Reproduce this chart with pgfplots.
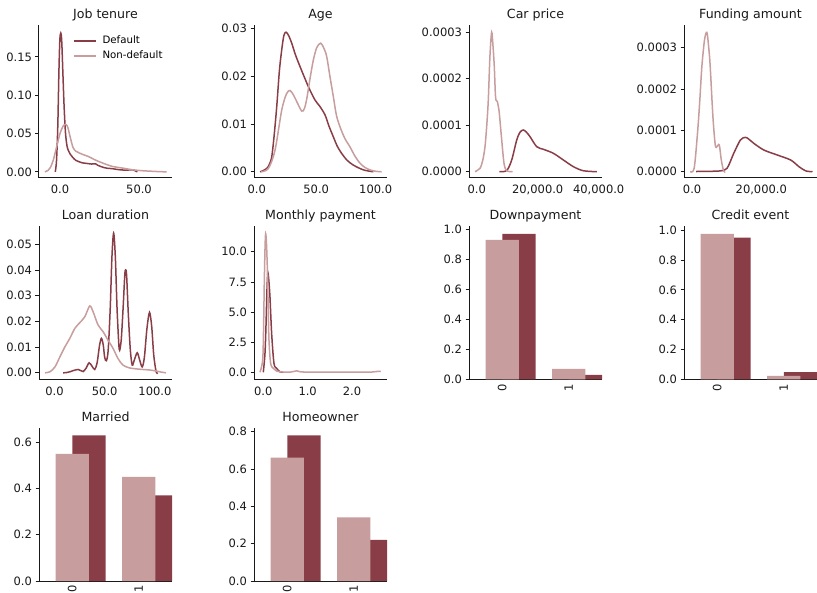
\documentclass[border=0pt]{standalone}
\usepackage{pgfplots}
\pgfplotsset{compat=1.18}
\usepackage{fontspec}
\setmainfont{DejaVu Sans}
\definecolor{dk}{RGB}{137,62,71}
\definecolor{lt}{RGB}{199,157,158}
\definecolor{txt}{RGB}{25,25,25}
\pgfplotsset{
  base/.style={
    scale only axis, width=133pt, height=153pt, anchor=south west,
    axis x line*=bottom, axis y line*=left,
    axis line style={-, line width=1pt, color=txt},
    tick align=outside, major tick length=3.5pt,
    x tick style={draw=none},
    y tick style={line width=0.8pt, color=txt},
    tick label style={font=\fontsize{11.5}{13}\selectfont, color=txt},
    /pgf/number format/assume math mode=true,
    scaled x ticks=false, scaled y ticks=false,
    every axis title shift=0pt,
    title style={font=\fontsize{12.6}{14}\selectfont, color=txt, anchor=base, at={(0.5,1)}, yshift=6.5pt},
  },
  kde/.style={base,
    xticklabel style={/pgf/number format/fixed, /pgf/number format/fixed zerofill, /pgf/number format/precision=1, /pgf/number format/1000 sep={,}},
  },
  yp/.style={yticklabel style={/pgf/number format/fixed, /pgf/number format/fixed zerofill, /pgf/number format/precision=#1}},
  bars/.style={base, xmin=-0.5, xmax=1.5, ymin=0, xtick={0,1}, xticklabels={0,1},
    xticklabel style={rotate=90, anchor=east, inner sep=0.5pt}, yp=1},
  dl/.style={dk, line width=1.5pt, smooth},
  ll/.style={lt, line width=1.5pt, smooth},
}
\begin{document}
\begin{tikzpicture}
\useasboundingbox (0,0) rectangle (817pt,-593pt);
% Job tenure
\begin{axis}[kde, yp=2, at={(39pt,-178pt)}, title={Job tenure},
  xmin=-13.3, xmax=70.9, ymin=-0.008, ymax=0.1915, xtick={0,50}, ytick={0,0.05,0.10,0.15},
  legend style={draw=none, fill=none, at={(0.255,0.935)}, anchor=north west,
    font=\fontsize{10.2}{12}\selectfont, row sep=3.5pt, inner sep=0pt,
    nodes={inner sep=1pt, text height=7.5pt, text depth=2pt},
    /tikz/every odd column/.append style={column sep=5pt}},
  legend cell align=left,
  legend image code/.code={\draw[#1] (0pt,0pt) -- (22pt,0pt);}]
\addplot[dl] coordinates {(-3,0) (-2.2,0.015) (-1.4,0.06) (-0.7,0.13) (-0.1,0.172) (0.5,0.181) (1.1,0.17) (1.8,0.13) (2.6,0.085) (3.5,0.05) (4.5,0.033) (5.5,0.027) (6.5,0.023) (8,0.019) (10,0.015) (12,0.0132) (14,0.0118) (17,0.011) (20,0.0102) (22.5,0.0105) (24,0.0085) (26,0.0068) (28,0.0055) (30,0.0047) (33,0.0042) (36,0.0032) (39,0.0025) (42,0.0023) (45,0.0026) (46.5,0.0025) (48,0.001) (49,0)};
\addlegendentry{Default}
\addplot[ll] coordinates {(-9.6,0) (-7.5,0.002) (-6,0.006) (-4.2,0.0157) (-2.1,0.033) (0,0.05) (1.8,0.059) (3.3,0.062) (4.8,0.059) (6.5,0.045) (8.2,0.032) (10,0.027) (12,0.0248) (15,0.0222) (18,0.02) (22,0.0158) (27,0.0115) (33,0.0072) (40,0.0048) (46,0.0027) (52,0.0015) (58,0.0008) (63,0.0003) (67.5,0)};
\addlegendentry{Non-default}
\end{axis}
% Age
\begin{axis}[kde, yp=2, at={(254pt,-178pt)}, title={Age},
  xmin=-2.3, xmax=109.5, ymin=-0.0013, ymax=0.0307, xtick={0,50,100}, ytick={0,0.01,0.02,0.03}]
\addplot[dl] coordinates {(2.8,0) (5,0.0002) (8.4,0.0007) (10.5,0.0015) (12.6,0.0031) (14.6,0.0075) (16.8,0.0136) (19,0.021) (21,0.0255) (22.8,0.0285) (24.6,0.0292) (26.8,0.0285) (29.4,0.0269) (32.5,0.0245) (36.4,0.022) (43.4,0.0178) (49,0.015) (53,0.0137) (57.4,0.0119) (60.5,0.0097) (64.4,0.0073) (67.8,0.0053) (71.5,0.0038) (76,0.0024) (81.2,0.0014) (89.6,0.0004) (98,0)};
\addplot[ll] coordinates {(3.65,0) (9.8,0.0007) (15.35,0.0045) (21,0.0129) (25,0.0163) (28,0.017) (31,0.016) (33.6,0.0147) (37.8,0.0127) (40,0.0132) (42,0.0152) (44.8,0.0195) (47.6,0.0234) (50.5,0.026) (53.8,0.0269) (56.5,0.0258) (58.8,0.0241) (61.5,0.02) (64.4,0.0157) (67,0.0118) (70,0.0094) (74,0.007) (78.4,0.0052) (82.5,0.0033) (86.8,0.0018) (91,0.0009) (95.2,0.0004) (100,0.0001) (105,0)};
\end{axis}
% Car price
\begin{axis}[kde, yp=4, at={(469pt,-178pt)}, title={Car price},
  xmin=-2525, xmax=41080, ymin=-0.0000136, ymax=0.0003157, xtick={0,20000,40000}, ytick={0,0.0001,0.0002,0.0003}]
\addplot[dl] coordinates {(7413,0) (9843,0.0000025) (11477,0.0000252) (13120,0.0000682) (14200,0.000085) (15285,0.0000897) (16300,0.000085) (17480,0.0000753) (19680,0.0000538) (21850,0.0000482) (25125,0.0000396) (28400,0.0000252) (31690,0.0000108) (34965,0.000002) (39363,0)};
\addplot[ll] coordinates {(-557,0) (1086,0.0000073) (2000,0.000025) (2720,0.0000538) (3300,0.0001) (3800,0.000154) (4350,0.00025) (4904,0.0003) (5350,0.00027) (5770,0.000226) (6100,0.00017) (6330,0.000154) (6754,0.000151) (7100,0.00014) (7413,0.000126) (8200,0.000068) (8958,0.000018) (9843,0.000002) (11811,0)};
\end{axis}
% Funding amount
\begin{axis}[kde, yp=4, at={(684pt,-178pt)}, title={Funding amount},
  xmin=-2350, xmax=36100, ymin=-0.0000152, ymax=0.000355, xtick={0,20000}, ytick={0,0.0001,0.0002,0.0003}]
\addplot[dl] coordinates {(1160,0.0000005) (5000,0.000001) (8140,0.000002) (10090,0.0000082) (12030,0.0000445) (13950,0.0000767) (15410,0.0000832) (16500,0.000078) (17820,0.0000687) (20730,0.0000525) (24620,0.0000404) (28490,0.0000283) (30900,0.0000121) (32850,0.000002) (34800,0)};
\addplot[ll] coordinates {(-580,0) (580,0.0000082) (1550,0.0000929) (2200,0.00017) (2810,0.000254) (3600,0.00032) (4270,0.000337) (4800,0.0003) (5230,0.000254) (6010,0.000133) (6690,0.0000646) (7170,0.0000605) (7850,0.0000646) (8430,0.0000283) (9100,0.000002) (9590,0)};
\end{axis}
% Loan duration
\begin{axis}[kde, yp=2, at={(39pt,-379.5pt)}, title={Loan duration},
  xmin=-15.4, xmax=117, ymin=-0.0026, ymax=0.0569, xtick={0,50,100}, ytick={0,0.01,0.02,0.03,0.04,0.05}]
\addplot[dl] coordinates {(8.7,0) (12,0.0001) (15.3,0.0004) (19,0.0009) (23.6,0.0013) (26.5,0.0008) (28.6,0.0005) (31.5,0.0018) (34.5,0.0039) (37.5,0.0025) (40.1,0.0013) (42.5,0.004) (44.8,0.0105) (46.7,0.0134) (48.5,0.011) (50,0.006) (51.7,0.0047) (53.5,0.009) (55.5,0.025) (57.2,0.045) (58.9,0.0543) (60.6,0.045) (62.3,0.025) (64,0.0115) (64.9,0.0088) (66.5,0.013) (68.3,0.025) (70,0.038) (70.8,0.04) (71.8,0.038) (73.5,0.023) (75.5,0.009) (77.4,0.003) (79.5,0.005) (82.4,0.0078) (84.8,0.005) (87.3,0.0023) (89.5,0.006) (92,0.017) (94.6,0.0235) (96.8,0.018) (98.8,0.007) (101.2,0.0004) (102.8,0)};
\addplot[ll] coordinates {(-9.4,0) (-4.5,0.0004) (0.5,0.0023) (5.4,0.0062) (10.4,0.0101) (15.3,0.0134) (20.3,0.0173) (25.2,0.0195) (30.2,0.0218) (35.1,0.026) (38.4,0.0238) (43.4,0.0186) (48.4,0.016) (53.3,0.0127) (58.3,0.0095) (63.2,0.0056) (68.2,0.003) (74.8,0.0019) (84.7,0.0014) (94.6,0.0011) (101.2,0.0007) (106,0.0003) (111,0)};
\end{axis}
% Monthly payment
\begin{axis}[kde, yp=1, at={(254pt,-379.5pt)}, title={Monthly payment},
  xmin=-0.21, xmax=2.79, ymin=-0.6, ymax=12.1, xtick={0,1,2}, ytick={0,2.5,5,7.5,10}]
\addplot[dl] coordinates {(0,0) (0.038,1.58) (0.06,3.8) (0.076,6.0) (0.09,7.6) (0.105,8.26) (0.125,7.6) (0.15,6.27) (0.188,3.23) (0.24,0.75) (0.3,0.33) (0.37,0.05) (0.45,0)};
\addplot[ll] coordinates {(-0.074,0) (-0.014,1.02) (0.005,3.5) (0.022,7.4) (0.04,10.5) (0.053,11.5) (0.07,10.8) (0.09,8.76) (0.11,5.5) (0.128,2.68) (0.165,0.75) (0.224,0.33) (0.3,0.1) (0.45,0.02) (0.6,0.01) (0.7,0.08) (0.76,0.12) (0.82,0.05) (1.0,0.01) (1.5,0.01) (2.0,0.01) (2.4,0.01) (2.6,0.08) (2.65,0.06)};
\end{axis}
% Downpayment
\begin{axis}[bars, at={(469pt,-379.5pt)}, title={Downpayment}, ymax=1.0185, ytick={0,0.2,0.4,0.6,0.8,1.0}]
\addplot[ybar, bar width=0.5, bar shift=0.25, fill=dk, draw=none] coordinates {(0,0.97) (1,0.03)};
\addplot[ybar, bar width=0.5, bar shift=0, fill=lt, draw=none] coordinates {(0,0.93) (1,0.07)};
\end{axis}
% Credit event
\begin{axis}[bars, at={(684pt,-379.5pt)}, title={Credit event}, ymax=1.024, ytick={0,0.2,0.4,0.6,0.8,1.0}]
\addplot[ybar, bar width=0.5, bar shift=0.25, fill=dk, draw=none] coordinates {(0,0.95) (1,0.05)};
\addplot[ybar, bar width=0.5, bar shift=0, fill=lt, draw=none] coordinates {(0,0.975) (1,0.025)};
\end{axis}
% Married
\begin{axis}[bars, at={(39pt,-581pt)}, title={Married}, ymax=0.6615, ytick={0,0.2,0.4,0.6}]
\addplot[ybar, bar width=0.5, bar shift=0.25, fill=dk, draw=none] coordinates {(0,0.63) (1,0.37)};
\addplot[ybar, bar width=0.5, bar shift=0, fill=lt, draw=none] coordinates {(0,0.55) (1,0.45)};
\end{axis}
% Homeowner
\begin{axis}[bars, at={(254pt,-581pt)}, title={Homeowner}, ymax=0.819, ytick={0,0.2,0.4,0.6,0.8}]
\addplot[ybar, bar width=0.5, bar shift=0.25, fill=dk, draw=none] coordinates {(0,0.78) (1,0.22)};
\addplot[ybar, bar width=0.5, bar shift=0, fill=lt, draw=none] coordinates {(0,0.66) (1,0.34)};
\end{axis}
\end{tikzpicture}
\end{document}
